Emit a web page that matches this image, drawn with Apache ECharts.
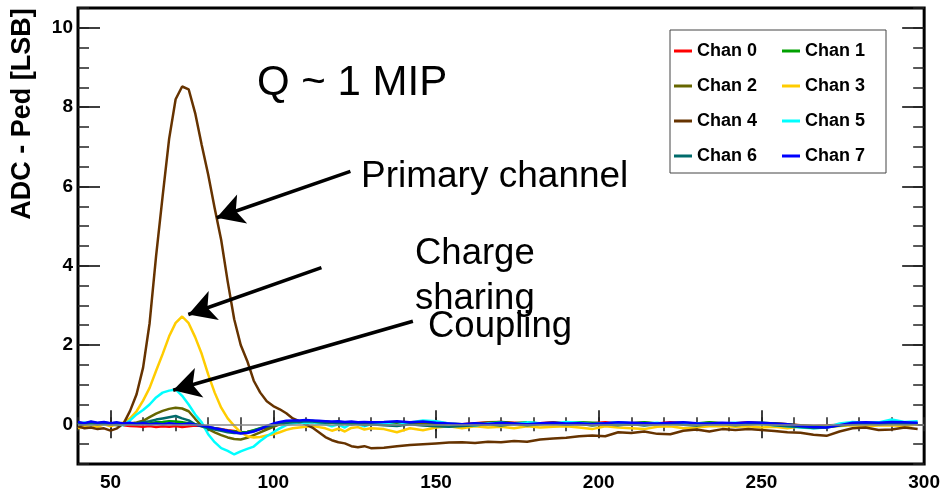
<!DOCTYPE html>
<html>
<head>
<meta charset="utf-8">
<script src="https://cdn.jsdelivr.net/npm/echarts@6/dist/echarts.min.js"></script>
<style>
    html, body { margin: 0; padding: 0; background: #fff; }
    #main { width: 943px; height: 492px; }
</style>
</head>
<body>
<div id="main"></div>
<script>
// ADC - Ped 波形, 8 channels
var xs = [40, 42, 44, 46, 48, 50, 52, 54, 56, 58,
    60, 62, 64, 66, 68, 70, 72, 74, 76, 78,
    80, 82, 84, 86, 88, 90, 92, 94, 96, 98,
    100, 102, 104, 106, 108, 110, 112, 114, 116, 118,
    120, 122, 124, 126, 128, 130,
    134, 138, 142, 146, 150, 154, 158, 162, 166, 170, 174, 178, 182, 186, 190, 194, 198,
    202, 206, 210, 214, 218, 222, 226, 230, 234, 238, 242, 246, 250, 254, 258, 262, 266, 270, 274, 278, 282, 286, 290, 294, 298];

var chan0 = [0.03, 0.0, 0.04, -0.02, 0.02, 0.0, 0.03, -0.02, -0.04, -0.05,
    -0.06, -0.04, -0.07, -0.05, -0.06, -0.04, -0.07, -0.05, -0.03, -0.04,
    -0.08, -0.1, -0.12, -0.15, -0.17, -0.2, -0.19, -0.16, -0.12, -0.08,
    -0.03, 0.0, 0.03, 0.05, 0.04, 0.06, 0.05, 0.07, 0.04, 0.05,
    0.03, 0.04, 0.02, 0.05, 0.03, 0.02,
    0.04, 0.02, 0.05, 0.03, 0.06, 0.02, 0.0, 0.03, 0.05, 0.06, 0.04, 0.02, 0.03, 0.05, 0.02, 0.04, 0.03,
    0.05, 0.02, 0.03, 0.04, 0.02, 0.05, 0.03, 0.01, 0.04, 0.02, 0.03, 0.05, 0.02, 0.03, 0.0, -0.02, -0.04, -0.03, -0.01, 0.02, 0.04, 0.03, 0.05, 0.04, 0.03];
var chan1 = [0.05, 0.02, 0.06, 0.03, 0.05, 0.02, 0.04, 0.01, 0.02, 0.0,
    0.02, 0.03, 0.05, 0.06, 0.08, 0.07, 0.05, 0.03, 0.0, -0.03,
    -0.07, -0.1, -0.13, -0.16, -0.18, -0.2, -0.19, -0.15, -0.1, -0.06,
    -0.02, 0.02, 0.04, 0.06, 0.08, 0.07, 0.09, 0.06, 0.08, 0.05,
    0.06, 0.04, 0.05, 0.03, 0.04, 0.02,
    0.03, 0.05, 0.02, 0.04, 0.03, 0.01, -0.02, 0.02, 0.04, 0.06, 0.03, 0.05, 0.02, 0.04, 0.03, 0.05, 0.04,
    0.02, 0.04, 0.03, 0.05, 0.02, 0.03, 0.04, 0.02, 0.05, 0.03, 0.01, 0.03, 0.04, 0.02, 0.0, -0.03, -0.05, -0.04, -0.02, 0.01, 0.03, 0.04, 0.02, 0.03, 0.02];
var chan2 = [0.0, 0.03, -0.02, 0.01, 0.03, 0.0, -0.02, 0.0, 0.02, 0.05,
    0.09, 0.18, 0.27, 0.34, 0.39, 0.42, 0.4, 0.33, 0.14, -0.04,
    -0.12, -0.2, -0.27, -0.33, -0.37, -0.38, -0.34, -0.27, -0.2, -0.13,
    -0.06, 0.0, 0.03, 0.05, 0.06, 0.07, 0.05, 0.06, 0.03, 0.05,
    0.02, 0.04, 0.0, 0.02, -0.02, 0.01,
    0.0, -0.03, 0.02, 0.0, -0.02, -0.04, -0.02, 0.01, 0.03, 0.0, 0.02, -0.01, 0.02, 0.0, 0.03, 0.01, -0.02,
    0.0, 0.02, -0.01, 0.02, 0.0, 0.03, 0.01, -0.02, 0.0, 0.02, -0.01, 0.01, 0.02, 0.0, -0.02, -0.05, -0.07, -0.06, -0.03, 0.0, 0.02, 0.01, 0.03, 0.02, 0.0];
var chan3 = [-0.1, -0.05, -0.02, -0.06, 0.0, -0.05, 0.0, 0.05, 0.15, 0.33,
    0.6, 0.92, 1.35, 1.77, 2.22, 2.56, 2.72, 2.55, 2.2, 1.78,
    1.26, 0.8, 0.42, 0.15, -0.04, -0.2, -0.3, -0.33, -0.32, -0.28,
    -0.25, -0.2, -0.14, -0.1, -0.08, -0.06, -0.04, -0.07, -0.1, -0.16,
    -0.11, -0.18, -0.09, -0.07, -0.13, -0.1,
    -0.12, -0.2, -0.1, -0.15, -0.08, -0.05, -0.1, -0.05, -0.08, -0.06, -0.1, -0.05, -0.08, -0.06, -0.05, -0.08, -0.12,
    -0.05, -0.08, -0.1, -0.12, -0.06, -0.05, -0.1, -0.08, -0.05, -0.04, -0.06, -0.05, -0.08, -0.06, -0.1, -0.05, -0.08, -0.06, -0.04, -0.02, -0.05, -0.03, -0.02, -0.05, 0.0];
var chan4 = [-0.05, -0.1, -0.08, -0.12, -0.1, -0.16, -0.1, 0.02, 0.34, 0.76,
    1.43, 2.55, 4.25, 5.75, 7.2, 8.2, 8.52, 8.45, 7.85, 7.05,
    6.3, 5.45, 4.65, 3.6, 2.65, 2.0, 1.6, 1.1, 0.8, 0.58,
    0.46, 0.38, 0.28, 0.15, 0.08, 0.0, -0.08, -0.2, -0.32, -0.4,
    -0.45, -0.48, -0.55, -0.58, -0.55, -0.6,
    -0.59, -0.55, -0.52, -0.5, -0.48, -0.46, -0.45, -0.47, -0.44, -0.45, -0.42, -0.44, -0.38, -0.36, -0.34, -0.3, -0.28,
    -0.3, -0.2, -0.22, -0.18, -0.24, -0.25, -0.16, -0.13, -0.18, -0.12, -0.14, -0.12, -0.14, -0.17, -0.2, -0.21, -0.26, -0.29, -0.18, -0.1, -0.08, -0.14, -0.13, -0.08, -0.12];
var chan5 = [0.0, 0.05, 0.0, 0.03, 0.0, 0.02, 0.0, -0.02, 0.1, 0.25,
    0.36, 0.5, 0.68, 0.8, 0.85, 0.88, 0.72, 0.5, 0.25, 0.05,
    -0.25, -0.45, -0.6, -0.67, -0.76, -0.68, -0.62, -0.56, -0.42, -0.3,
    -0.2, -0.1, -0.02, 0.02, 0.05, 0.03, 0.05, 0.02, 0.0, -0.05,
    0.0, -0.08, 0.02, 0.0, -0.05, 0.0,
    0.02, -0.02, 0.05, 0.1, 0.08, 0.02, 0.0, -0.03, 0.02, 0.04, 0.0, 0.05, 0.03, 0.02, 0.06, 0.04, 0.0,
    0.02, 0.05, 0.03, 0.02, 0.04, 0.0, 0.02, 0.03, 0.0, 0.02, 0.04, 0.02, 0.0, -0.02, -0.05, -0.08, -0.1, -0.08, 0.02, 0.06, 0.04, 0.05, 0.12, 0.06, 0.08];
var chan6 = [0.02, 0.0, 0.03, 0.0, 0.02, 0.0, 0.0, 0.0, 0.02, 0.03,
    0.05, 0.08, 0.12, 0.15, 0.18, 0.21, 0.15, 0.1, 0.0, -0.05,
    -0.1, -0.13, -0.16, -0.2, -0.22, -0.22, -0.2, -0.16, -0.1, -0.06,
    -0.02, 0.02, 0.04, 0.05, 0.06, 0.08, 0.07, 0.05, 0.04, 0.05,
    0.02, 0.03, 0.0, 0.02, -0.02, 0.0,
    -0.02, -0.04, 0.0, -0.03, -0.05, -0.06, -0.04, -0.02, 0.0, -0.03, 0.01, -0.02, 0.0, 0.02, -0.01, 0.01, -0.02,
    0.0, -0.02, 0.01, -0.03, 0.0, 0.02, -0.01, -0.03, 0.0, 0.01, -0.02, 0.0, 0.02, -0.02, -0.05, -0.07, -0.09, -0.08, -0.03, 0.0, 0.02, 0.0, 0.03, 0.01, 0.02];
var chan7 = [0.06, 0.03, 0.07, 0.04, 0.06, 0.03, 0.05, 0.02, 0.04, 0.01,
    0.03, 0.0, 0.02, 0.0, 0.03, 0.01, 0.0, 0.02, -0.01, -0.03,
    -0.06, -0.1, -0.13, -0.16, -0.2, -0.23, -0.22, -0.18, -0.12, -0.04,
    0.02, 0.06, 0.09, 0.1, 0.1, 0.11, 0.1, 0.09, 0.08, 0.07,
    0.08, 0.06, 0.07, 0.05, 0.06, 0.05,
    0.06, 0.08, 0.05, 0.07, 0.04, 0.02, 0.0, 0.03, 0.01, 0.04, 0.02, 0.0, 0.03, 0.04, 0.02, 0.03, 0.01,
    0.03, 0.05, 0.04, 0.03, 0.02, 0.04, 0.05, 0.03, 0.02, 0.04, 0.03, 0.05, 0.04, 0.02, 0.0, -0.04, -0.07, -0.08, -0.02, 0.04, 0.05, 0.04, 0.06, 0.05, 0.04];

var chanNames = ['Chan 0', 'Chan 1', 'Chan 2', 'Chan 3', 'Chan 4', 'Chan 5', 'Chan 6', 'Chan 7'];
var chanValues = [chan0, chan1, chan2, chan3, chan4, chan5, chan6, chan7];
var colorList = ['#ff0000', '#00a000', '#666600', '#ffcc00', '#663300', '#00ffff', '#006b6b', '#0000ff'];

var xMajor = [50, 100, 150, 200, 250, 300];
var yMajor = [0, 2, 4, 6, 8, 10];

// arrows: [startX, startY, tipX, tipY] in data units
var arrows = [
    [123.7, 6.38, 82.6, 5.21],
    [114.8, 3.95, 73.9, 2.77],
    [142.9, 2.60, 69.25, 0.86]
];

(function () {
    var myChart = echarts.init(document.getElementById('main'));
    var font = "'Liberation Sans', Arial, Helvetica, sans-serif";

    function tickAxis(pos, isX, major) {
        var ax = {
            type: 'value',
            position: pos,
            min: isX ? 40 : -1,
            max: isX ? 300 : 10.5,
            axisLine: { show: false },
            splitLine: { show: false },
            axisLabel: { show: false },
            axisTick: {
                show: true,
                inside: true,
                lineStyle: { color: '#222', width: 1.5 }
            }
        };
        if (major) {
            ax.axisTick.customValues = isX ? xMajor : yMajor;
            ax.axisTick.length = isX ? 14 : 22;
            ax.axisTick.lineStyle.color = '#000';
        } else {
            ax.interval = isX ? 10 : 0.5;
            ax.axisTick.length = isX ? 7 : 11;
        }
        return ax;
    }

    var labelStyle = {
        color: '#000',
        fontSize: 19,
        fontWeight: 'bold',
        fontFamily: font
    };

    var xAxes = [tickAxis('bottom', true, true), tickAxis('bottom', true, false),
        tickAxis('top', true, true), tickAxis('top', true, false)];
    xAxes[0].axisLabel = Object.assign({ show: true, customValues: xMajor, margin: 9 }, labelStyle);
    var yAxes = [tickAxis('left', false, true), tickAxis('left', false, false),
        tickAxis('right', false, true), tickAxis('right', false, false)];
    yAxes[0].axisLabel = Object.assign({ show: true, customValues: yMajor, margin: 5 }, labelStyle);

    var series = chanNames.map(function (name, i) {
        return {
            name: name,
            type: 'line',
            symbol: 'none',
            showSymbol: false,
            animation: false,
            lineStyle: { width: 2.5, color: colorList[i] },
            itemStyle: { color: colorList[i] },
            data: xs.map(function (x, k) { return [x, chanValues[i][k]]; })
        };
    });

    // 0 baseline
    series[0].markLine = {
        silent: true,
        symbol: 'none',
        label: { show: false },
        animation: false,
        lineStyle: { color: '#888', width: 1.5, type: 'solid' },
        data: [{ yAxis: 0 }]
    };
    // annotation arrows
    series[7].markLine = {
        silent: true,
        symbol: ['none', 'arrow'],
        symbolSize: [23, 27],
        label: { show: false },
        animation: false,
        lineStyle: { color: '#000', width: 3.5, type: 'solid' },
        data: arrows.map(function (a) {
            return [{ coord: [a[0], a[1]] }, { coord: [a[2], a[3]] }];
        })
    };

    var legendText = {
        color: '#000',
        fontSize: 18,
        fontWeight: 'bold',
        fontFamily: font
    };
    // two columns, the left one carries the box
    var legends = [
        {
            orient: 'vertical',
            left: 670,
            top: 30,
            padding: [12, 129, 8, 4],
            itemGap: 17,
            itemWidth: 18,
            itemHeight: 3,
            icon: 'rect',
            backgroundColor: '#fff',
            borderColor: '#444',
            borderWidth: 1,
            textStyle: legendText,
            data: chanNames.filter(function (n, i) { return i % 2 === 0; })
        },
        {
            orient: 'vertical',
            left: 782,
            top: 42,
            padding: 0,
            z: 5,
            itemGap: 17,
            itemWidth: 18,
            itemHeight: 3,
            icon: 'rect',
            textStyle: legendText,
            data: chanNames.filter(function (n, i) { return i % 2 === 1; })
        }
    ];

    var option = {
        backgroundColor: '#fff',
        animation: false,
        grid: {
            left: 78,
            right: 18,
            top: 8,
            bottom: 27,
            show: true,
            borderColor: '#000',
            borderWidth: 3,
            backgroundColor: 'transparent'
        },
        legend: legends,
        xAxis: xAxes,
        yAxis: yAxes,
        graphic: [
            {
                type: 'text', x: 23, y: 114, rotation: Math.PI / 2,
                style: { text: 'ADC - Ped [LSB]', fill: '#000', font: 'bold 27px ' + font, textAlign: 'center', textVerticalAlign: 'middle' }
            },
            {
                type: 'text', x: 257, y: 83,
                style: { text: 'Q ~ 1 MIP', fill: '#000', font: '42px ' + font, textAlign: 'left', textVerticalAlign: 'middle' }
            },
            {
                type: 'text', x: 361, y: 177,
                style: { text: 'Primary channel', fill: '#000', font: '37px ' + font, textAlign: 'left', textVerticalAlign: 'middle' }
            },
            {
                type: 'text', x: 415, y: 254,
                style: { text: 'Charge', fill: '#000', font: '36.5px ' + font, textAlign: 'left', textVerticalAlign: 'middle' }
            },
            {
                type: 'text', x: 415, y: 299,
                style: { text: 'sharing', fill: '#000', font: '36.5px ' + font, textAlign: 'left', textVerticalAlign: 'middle' }
            },
            {
                type: 'text', x: 428, y: 327,
                style: { text: 'Coupling', fill: '#000', font: '36.5px ' + font, textAlign: 'left', textVerticalAlign: 'middle' }
            }
        ],
        series: series
    };
    myChart.setOption(option);
    window.addEventListener('resize', function () {
        myChart.resize();
    });
})();
</script>
</body>
</html>
